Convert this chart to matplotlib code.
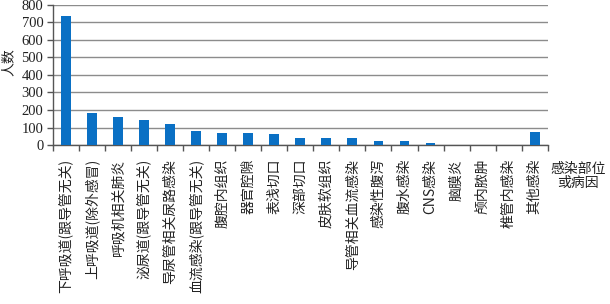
import matplotlib
matplotlib.use("Agg")
import matplotlib.pyplot as plt
import numpy as np

categories = ["下呼吸道(跟导管无关)", "上呼吸道(除外感冒)", "呼吸机相关肺炎", "泌尿道(跟导管无关)",
              "导尿管相关尿路感染", "血流感染(跟导管无关)", "腹腔内组织", "器官腔隙", "表浅切口",
              "深部切口", "皮肤软组织", "导管相关血流感染", "感染性腹泻", "腹水感染", "CNS感染",
              "脑膜炎", "颅内脓肿", "椎管内感染", "其他感染"]
values = [737, 181, 159, 144, 121, 78, 70, 69, 61, 42, 38, 38, 25, 25, 9, 2, 0, 0, 76]
yticks = [0, 100, 200, 300, 400, 500, 600, 700, 800]

plt.rcParams['font.family'] = ['Noto Sans CJK SC', 'DejaVu Sans']

fig = plt.figure(figsize=(6.10, 3.04), dpi=100)
ax = fig.add_axes([0.0869, 0.523, 0.811, 0.4606])

x = np.arange(len(categories))
ax.bar(x, values, width=0.38, color="#0a70c4", zorder=3)

ax.set_xlim(-0.5, len(categories) - 0.5)
ax.set_ylim(0, 800)
ax.set_yticks(yticks)
ax.set_yticklabels([str(v) for v in yticks], family=['Liberation Serif'], fontsize=10.5, color="#222222")
ax.yaxis.grid(True, color="#8c8c8c", linewidth=1.0, zorder=0)

ax.set_xticks(x)
ax.set_xticklabels(categories, rotation=90, fontsize=10, color="#222222", va="top", ha="center")
ax.tick_params(axis='x', which='major', length=0, pad=10)
ax.set_xticks(np.arange(-0.5, len(categories)), minor=True)
ax.tick_params(axis='x', which='minor', length=4, width=1, color="#555555", direction='out')
ax.tick_params(axis='y', length=4, width=1, color="#555555", direction='out', pad=3)

for s in ['top', 'right']:
    ax.spines[s].set_visible(False)
for s in ['left', 'bottom']:
    ax.spines[s].set_color("#555555")
    ax.spines[s].set_linewidth(1.0)

fig.text(0.014, 0.795, "人数", rotation=90, fontsize=10, ha="center", va="center", color="#222222")
fig.text(0.947, 0.42, "感染部位\n或病因", fontsize=10, ha="center", va="center", color="#222222",
         linespacing=1.0)

fig.savefig("out.png", dpi=100)
